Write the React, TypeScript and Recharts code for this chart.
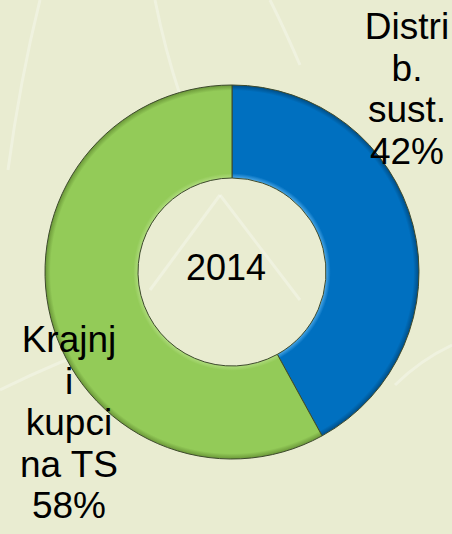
import { PieChart, Pie, Cell, Label } from "recharts";

const categories = ["Distrib. sust.", "Krajnji kupci na TS"];
const shares = [42, 58];
const labelLines = [
  ["Distri", "b.", "sust.", "42%"],
  ["Krajnj", "i", "kupci", "na TS", "58%"],
];
const year = "2014";

const data = categories.map((name, i) => ({ name, value: shares[i] }));

const WIDTH = 452;
const HEIGHT = 534;
const CX = 232;
const CY = 272;
const INNER = 94;
const OUTER = 187;

const palette = [
  { light: "#4aa6e6", main: "#0070c0", dark: "#004c84" },
  { light: "#aedb7c", main: "#93cb58", dark: "#6a9638" },
];

// label block offsets from the pie centre (centre x, first baseline)
const labelOffsets = [
  { dx: 175, dy: -233 },
  { dx: -163, dy: 80 },
];
const LINE_H = 41.5;
const FONT = "'Liberation Sans', Arial, sans-serif";

function SliceLabel(props: any) {
  const { cx, cy, index } = props;
  const off = labelOffsets[index];
  const lines = labelLines[index];
  return (
    <text
      x={cx + off.dx}
      y={cy + off.dy}
      textAnchor="middle"
      fontSize={37}
      fontFamily={FONT}
      fill="#000"
    >
      {lines.map((t, i) => (
        <tspan key={i} x={cx + off.dx} dy={i === 0 ? 0 : LINE_H}>
          {t}
        </tspan>
      ))}
    </text>
  );
}

export default function App() {
  const stop = INNER / OUTER;
  return (
    <div
      style={{
        position: "absolute",
        left: 0,
        top: 0,
        width: WIDTH,
        height: HEIGHT,
        background: "#e9ecd1",
        overflow: "hidden",
      }}
    >
      <svg
        width={WIDTH}
        height={HEIGHT}
        style={{ position: "absolute", left: 0, top: 0 }}
      >
        <g fill="none" stroke="#ffffff" strokeOpacity={0.3} strokeWidth={3}>
          <path d="M40 0 Q 20 80 8 170" />
          <path d="M155 0 Q 165 50 180 95" />
          <path d="M270 0 Q 285 30 300 65" />
          <path d="M0 390 Q 60 360 120 340" />
          <path d="M220 195 L 300 300" />
          <path d="M220 195 L 150 290" />
          <path d="M452 345 Q 420 360 395 385" />
        </g>
      </svg>
      <PieChart
        width={WIDTH}
        height={HEIGHT}
        margin={{ top: 0, right: 0, bottom: 0, left: 0 }}
        style={{ position: "absolute", left: 0, top: 0 }}
      >
        <defs>
          {palette.map((c, i) => (
            <radialGradient
              key={i}
              id={`bevel${i}`}
              gradientUnits="userSpaceOnUse"
              cx={CX}
              cy={CY}
              r={OUTER}
            >
              <stop offset={stop} stopColor={c.light} />
              <stop offset={stop + 0.025} stopColor={c.main} />
              <stop offset={0.97} stopColor={c.main} />
              <stop offset={1} stopColor={c.dark} />
            </radialGradient>
          ))}
        </defs>
        <Pie
          data={data}
          dataKey="value"
          nameKey="name"
          cx={CX}
          cy={CY}
          innerRadius={INNER}
          outerRadius={OUTER}
          startAngle={90}
          endAngle={-270}
          stroke="#3d4a2c"
          strokeWidth={1}
          label={SliceLabel}
          labelLine={false}
          isAnimationActive={false}
        >
          {data.map((d, i) => (
            <Cell key={d.name} fill={`url(#bevel${i})`} />
          ))}
          <Label
            value={year}
            position="center"
            fontSize={36}
            fontFamily={FONT}
            fill="#000"
          />
        </Pie>
      </PieChart>
    </div>
  );
}
